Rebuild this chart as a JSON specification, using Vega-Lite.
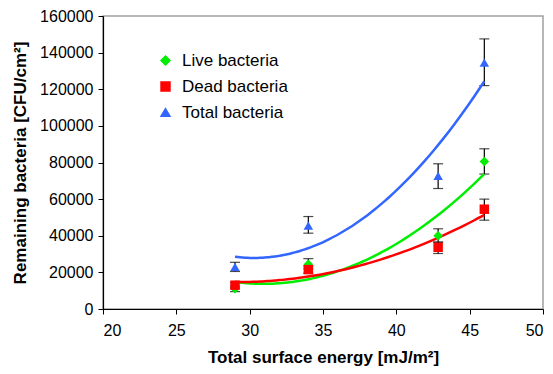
{
  "$schema": "https://vega.github.io/schema/vega-lite/v6.json",
  "width": 440,
  "height": 293,
  "autosize": "none",
  "padding": {"left": 103, "top": 16, "right": 10, "bottom": 65},
  "background": "white",
  "config": {
    "font": "Liberation Sans",
    "view": {"stroke": "#a0a0a0", "strokeWidth": 1.5},
    "axis": {"grid": false, "domainColor": "black", "tickColor": "black", "labelColor": "black", "titleColor": "black", "labelFont": "Liberation Sans", "titleFont": "Liberation Sans", "labelFontSize": 16, "titleFontSize": 17, "titleFontWeight": "bold", "tickSize": 5, "domainWidth": 1.2, "labelOverlap": false}
  },
  "data": {"values": [
    {"series": "Live bacteria", "energy": 29, "count": 11000, "lo": 9500, "hi": 12500},
    {"series": "Live bacteria", "energy": 34, "count": 24500, "lo": 22000, "hi": 27500},
    {"series": "Live bacteria", "energy": 42.85, "count": 40000, "lo": 36500, "hi": 43800},
    {"series": "Live bacteria", "energy": 46, "count": 80600, "lo": 73700, "hi": 87500},
    {"series": "Dead bacteria", "energy": 29, "count": 13000, "lo": 11500, "hi": 14500},
    {"series": "Dead bacteria", "energy": 34, "count": 21500, "lo": 19500, "hi": 23500},
    {"series": "Dead bacteria", "energy": 42.85, "count": 33700, "lo": 30300, "hi": 36500},
    {"series": "Dead bacteria", "energy": 46, "count": 54500, "lo": 48500, "hi": 60000},
    {"series": "Total bacteria", "energy": 29, "count": 23000, "lo": 20500, "hi": 25500},
    {"series": "Total bacteria", "energy": 34, "count": 45500, "lo": 41400, "hi": 50500},
    {"series": "Total bacteria", "energy": 42.85, "count": 72700, "lo": 65800, "hi": 79300},
    {"series": "Total bacteria", "energy": 46, "count": 134500, "lo": 122000, "hi": 147500}
  ]},
  "encoding": {
    "x": {"field": "energy", "type": "quantitative", "scale": {"domain": [20, 50], "zero": false}, "axis": {"values": [20, 25, 30, 35, 40, 45, 50], "title": "Total surface energy [mJ/m²]", "titlePadding": 11, "labelPadding": 8}}
  },
  "layer": [
    {
      "mark": {"type": "errorbar", "ticks": {"size": 10, "color": "black", "thickness": 1.2}, "rule": {"color": "black", "strokeWidth": 1.2}},
      "encoding": {
        "y": {"field": "lo", "type": "quantitative", "scale": {"domain": [0, 160000]}, "axis": {"values": [0, 20000, 40000, 60000, 80000, 100000, 120000, 140000, 160000], "format": "d", "title": "Remaining bacteria [CFU/cm²]", "titlePadding": 10, "labelPadding": 5, "labelOverlap": false}},
        "y2": {"field": "hi"}
      }
    },
    {
      "transform": [{"regression": "count", "on": "energy", "groupby": ["series"], "method": "poly", "order": 2}],
      "mark": {"type": "line", "strokeWidth": 2.5, "interpolate": "monotone"},
      "encoding": {
        "y": {"field": "count", "type": "quantitative", "scale": {"domain": [0, 160000]}, "axis": {"values": [0, 20000, 40000, 60000, 80000, 100000, 120000, 140000, 160000], "format": "d", "title": "Remaining bacteria [CFU/cm²]", "titlePadding": 10, "labelPadding": 5, "labelOverlap": false}},
        "color": {"field": "series", "type": "nominal", "scale": {"domain": ["Live bacteria", "Dead bacteria", "Total bacteria"], "range": ["#00ee00", "#ff0000", "#3366ff"]},
          "legend": {"title": null, "orient": "none", "legendX": 54, "legendY": 36, "labelFontSize": 17, "labelFont": "Liberation Sans", "labelColor": "black", "symbolSize": 80, "rowPadding": 8, "labelOffset": 8}},
        "detail": {"field": "series"}
      }
    },
    {
      "mark": {"type": "point", "filled": true, "opacity": 1, "size": 90},
      "encoding": {
        "y": {"field": "count", "type": "quantitative", "scale": {"domain": [0, 160000]}, "axis": {"values": [0, 20000, 40000, 60000, 80000, 100000, 120000, 140000, 160000], "format": "d", "title": "Remaining bacteria [CFU/cm²]", "titlePadding": 10, "labelPadding": 5, "labelOverlap": false}},
        "color": {"field": "series", "type": "nominal", "scale": {"domain": ["Live bacteria", "Dead bacteria", "Total bacteria"], "range": ["#00ee00", "#ff0000", "#3366ff"]},
          "legend": {"title": null, "orient": "none", "legendX": 54, "legendY": 36, "labelFontSize": 17, "labelFont": "Liberation Sans", "labelColor": "black", "symbolSize": 80, "rowPadding": 8, "labelOffset": 8}},
        "shape": {"field": "series", "type": "nominal", "scale": {"domain": ["Live bacteria", "Dead bacteria", "Total bacteria"], "range": ["diamond", "square", "triangle-up"]}, "legend": {"title": null, "orient": "none", "legendX": 54, "legendY": 36, "labelFontSize": 17, "labelFont": "Liberation Sans", "labelColor": "black", "symbolSize": 80, "rowPadding": 8, "labelOffset": 8}}
      }
    }
  ]
}
